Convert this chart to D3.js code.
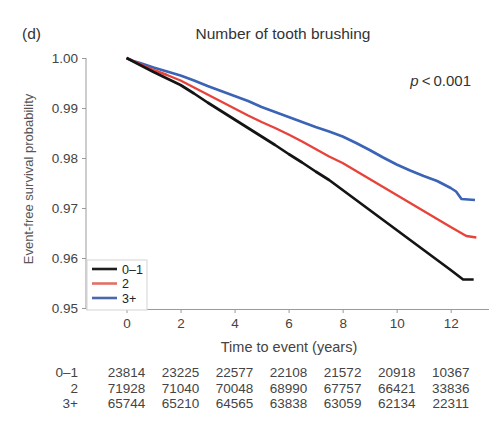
<!DOCTYPE html>
<html>
<head>
<meta charset="utf-8">
<script src="https://cdn.jsdelivr.net/npm/d3@7"></script>
<style>
  body { margin: 0; background: #fff; }
  svg { font-family: "Liberation Sans", Arial, sans-serif; }
</style>
</head>
<body>
<div id="chart"></div>
<script>
// survival curves (time in years, probability)
var timesBlack = [0, 0.25, 0.5, 1, 1.5, 2, 2.5, 3, 3.5, 4, 4.5, 5, 5.5, 6, 6.5, 7, 7.5, 8, 8.5, 9, 9.5, 10, 10.5, 11, 11.5, 12, 12.46, 12.85];
var survBlack = [1.0, 0.9993, 0.9986, 0.9972, 0.9959, 0.9946, 0.9929, 0.9911, 0.9894, 0.9877, 0.9860, 0.9843, 0.9826, 0.9808, 0.9791, 0.9773, 0.9756, 0.9736, 0.9716, 0.9696, 0.9676, 0.9656, 0.9636, 0.9616, 0.9596, 0.9576, 0.9557, 0.9557];

var timesRed = [0, 0.25, 0.5, 1, 1.5, 2, 2.5, 3, 3.5, 4, 4.5, 5, 5.5, 6, 6.5, 7, 7.5, 8, 8.5, 9, 9.5, 10, 10.5, 11, 11.5, 12, 12.58, 12.95];
var survRed = [1.0, 0.9994, 0.9988, 0.9976, 0.9966, 0.9955, 0.9941, 0.9927, 0.9913, 0.9899, 0.9885, 0.9872, 0.9860, 0.9847, 0.9833, 0.9818, 0.9803, 0.9790, 0.9774, 0.9758, 0.9742, 0.9726, 0.9710, 0.9694, 0.9678, 0.9662, 0.9644, 0.9641];

var timesBlue = [0, 0.25, 0.5, 1, 1.5, 2, 2.5, 3, 3.5, 4, 4.5, 5, 5.5, 6, 6.5, 7, 7.5, 8, 8.5, 9, 9.5, 10, 10.5, 11, 11.5, 12, 12.2, 12.4, 12.9];
var survBlue = [1.0, 0.9994, 0.9990, 0.9981, 0.9973, 0.9965, 0.9955, 0.9944, 0.9934, 0.9924, 0.9914, 0.9902, 0.9892, 0.9882, 0.9872, 0.9862, 0.9853, 0.9843, 0.9830, 0.9816, 0.9801, 0.9787, 0.9775, 0.9764, 0.9754, 0.9740, 0.9733, 0.9718, 0.9716];

var groups = ["0\u20131", "2", "3+"];
var groupColors = ["#141414", "#e8433b", "#3b63b6"];
var legendColors = ["#1e1e1e", "#e07068", "#4a68aa"];

// number at risk table
var riskTimes = [0, 2, 4, 6, 8, 10, 12];
var riskBlack = [23814, 23225, 22577, 22108, 21572, 20918, 10367];
var riskRed = [71928, 71040, 70048, 68990, 67757, 66421, 33836];
var riskBlue = [65744, 65210, 64565, 63838, 63059, 62134, 22311];

var yTicks = [0.95, 0.96, 0.97, 0.98, 0.99, 1.00];
var xTicks = [0, 2, 4, 6, 8, 10, 12];

var W = 498, H = 426;

var svg = d3.select("#chart").append("svg")
  .attr("width", W)
  .attr("height", H);

// scales (x axis runs a bit past both ends of the data)
var x = d3.scaleLinear().domain([-1.5, 13.4]).range([86, 488.5]);
var y = d3.scaleLinear().domain([0.95, 1.0]).range([308, 58]);

var axisColor = "#9a9a9a";
var textColor = "#444";

// y axis
var yAxis = svg.append("g")
  .attr("transform", "translate(86,0)")
  .call(d3.axisLeft(y).tickValues(yTicks).tickFormat(d3.format(".2f")).tickSize(4).tickSizeOuter(0).tickPadding(4));
yAxis.select(".domain").attr("stroke", axisColor).attr("d", "M0," + y(1.0) + "V309");
yAxis.selectAll(".tick line").attr("stroke", axisColor);
yAxis.selectAll(".tick text").attr("fill", textColor).style("font-size", "13.5px");

// x axis
var xAxis = svg.append("g")
  .attr("transform", "translate(0,309)")
  .call(d3.axisBottom(x).tickValues(xTicks).tickSize(4).tickSizeOuter(0).tickPadding(5));
xAxis.select(".domain").attr("stroke", axisColor);
xAxis.selectAll(".tick line").attr("stroke", axisColor);
xAxis.selectAll(".tick text").attr("fill", textColor).style("font-size", "13.5px");

// curves
var line = d3.line()
  .x(d => x(d[0]))
  .y(d => y(d[1]));

var series = [
  { times: timesBlack, surv: survBlack, color: groupColors[0], w: 2.7 },
  { times: timesRed, surv: survRed, color: groupColors[1], w: 2.4 },
  { times: timesBlue, surv: survBlue, color: groupColors[2], w: 2.6 }
];

// draw blue, red, black so that black sits on top at the start
[2, 1, 0].forEach(function(i) {
  var s = series[i];
  svg.append("path")
    .datum(s.times.map((t, j) => [t, s.surv[j]]))
    .attr("fill", "none")
    .attr("stroke", s.color)
    .attr("stroke-width", s.w)
    .attr("stroke-linejoin", "round")
    .attr("d", line);
});

// legend
var lg = svg.append("g").attr("transform", "translate(87,260)");
lg.append("rect")
  .attr("width", 60).attr("height", 50)
  .attr("fill", "#fff")
  .attr("stroke", "#d4d4d4");
groups.forEach(function(g, i) {
  var yy = 9 + i * 14.5;
  lg.append("line")
    .attr("x1", 5).attr("x2", 30)
    .attr("y1", yy).attr("y2", yy)
    .attr("stroke", legendColors[i])
    .attr("stroke-width", 2.6);
  lg.append("text")
    .attr("x", 35).attr("y", yy + 4.5)
    .attr("fill", "#222")
    .style("font-size", "12.5px")
    .text(g);
});

// titles
svg.append("text")
  .attr("x", 22).attr("y", 39)
  .attr("fill", "#333")
  .style("font-size", "15.5px")
  .text("(d)");

svg.append("text")
  .attr("x", 283).attr("y", 39)
  .attr("text-anchor", "middle")
  .attr("fill", "#333")
  .style("font-size", "15.5px")
  .text("Number of tooth brushing");

var pText = svg.append("text")
  .attr("x", 471).attr("y", 86)
  .attr("text-anchor", "end")
  .attr("fill", "#333")
  .style("font-size", "15px");
pText.append("tspan").style("font-style", "italic").text("p");
pText.append("tspan").text("\u2009<\u20090.001");

svg.append("text")
  .attr("transform", "translate(33,179) rotate(-90)")
  .attr("text-anchor", "middle")
  .attr("fill", "#555")
  .style("font-size", "13px")
  .text("Event-free survival probability");

svg.append("text")
  .attr("x", 289).attr("y", 352)
  .attr("text-anchor", "middle")
  .attr("fill", "#444")
  .style("font-size", "14.5px")
  .text("Time to event (years)");

// numbers at risk
var riskRows = [riskBlack, riskRed, riskBlue];
var rowY = [377, 393, 408];
riskRows.forEach(function(row, i) {
  svg.append("text")
    .attr("x", 78).attr("y", rowY[i])
    .attr("text-anchor", "end")
    .attr("fill", textColor)
    .style("font-size", "13.5px")
    .text(groups[i]);
  svg.selectAll(null)
    .data(row)
    .enter()
    .append("text")
      .attr("x", (d, j) => x(riskTimes[j]))
      .attr("y", rowY[i])
      .attr("text-anchor", "middle")
      .attr("fill", textColor)
      .style("font-size", "13.5px")
      .text(d => d);
});
</script>
</body>
</html>
